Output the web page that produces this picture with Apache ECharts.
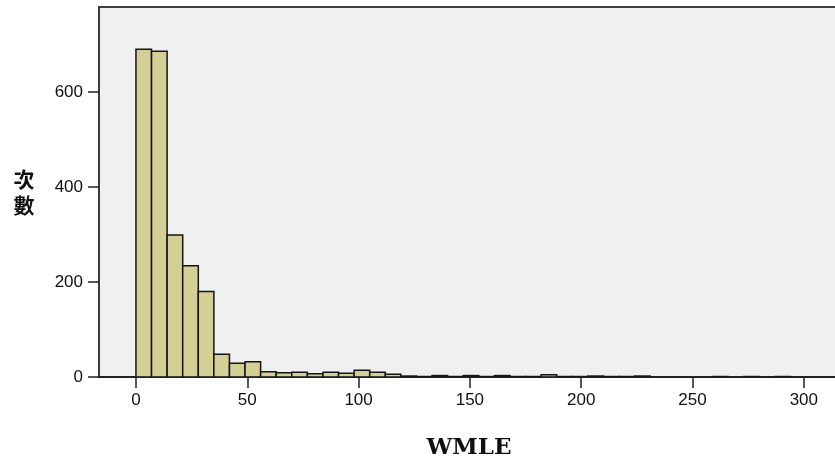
<!DOCTYPE html>
<html>
<head>
<meta charset="utf-8">
<script src="https://cdn.jsdelivr.net/npm/echarts@6/dist/echarts.min.js"></script>
<style>html,body{margin:0;padding:0;background:#fff;overflow:hidden;width:835px;height:461px}#c{width:850px;height:461px}</style>
</head>
<body>
<div id="c"></div>
<script>
// Bin edges (WMLE), width 7
var binEdges = [0,7,14,21,28,35,42,49,56,63,70,77,84,91,98,105,112,119,126,133,140,147,154,161,168,175,182,189,196,203,210,217,224,231,238,245,252,259,266,273,280,287,294];
// Frequency (次數) per bin
var counts = [690,686,299,234,180,48,29,32,11,9,10,7,10,8,14,10,6,2,1,3,1,3,1,3,1,1,5,1,1,2,1,1,2,0,0,0,0,1,0,1,0,1];
var xTicks = [0,50,100,150,200,250,300];
var yTicks = [0,200,400,600];
var xTitle = 'WMLE';
var yTitle = '次\n數';

var data = [];
for (var i = 0; i < counts.length; i++) {
  if (counts[i] > 0) data.push([binEdges[i], binEdges[i+1], counts[i]]);
}

var chart = echarts.init(document.getElementById('c'), null, {renderer:'canvas'});
chart.setOption({
  animation: false,
  backgroundColor: '#ffffff',
  grid: {left: 99, top: 7, width: 742, height: 370, show: true, backgroundColor: '#f0f0f0', borderColor: '#3c3c3c', borderWidth: 2},
  xAxis: {
    type: 'value', min: -16.6, max: 316.7,
    splitLine: {show: false},
    axisLine: {show: true, onZero: false, lineStyle: {color: '#222', width: 2}},
    axisTick: {show: true, customValues: xTicks, length: 11, lineStyle: {color: '#222', width: 1.5}},
    axisLabel: {customValues: xTicks, fontSize: 17, color: '#111', margin: 15, fontFamily: 'Liberation Sans, Arial, sans-serif'}
  },
  yAxis: {
    type: 'value', min: 0, max: 779,
    splitLine: {show: false},
    axisLine: {show: true, onZero: false, lineStyle: {color: '#3c3c3c', width: 2}},
    axisTick: {show: true, customValues: yTicks, length: 11, lineStyle: {color: '#222', width: 1.5}},
    axisLabel: {customValues: yTicks, fontSize: 17, color: '#111', margin: 16, fontFamily: 'Liberation Sans, Arial, sans-serif'}
  },
  graphic: [
    {type: 'text', x: 469, y: 448, style: {text: xTitle, font: 'bold 23px "DejaVu Serif", serif', fill: '#111', textAlign: 'center', textVerticalAlign: 'middle'}},
    {type: 'text', x: 24, y: 192, style: {text: yTitle, font: 'bold 21px "Noto Sans CJK TC", sans-serif', fill: '#111', textAlign: 'center', textVerticalAlign: 'middle', lineHeight: 26}}
  ],
  series: [{
    type: 'custom',
    clip: true,
    data: data,
    encode: {x: [0, 1], y: 2},
    renderItem: function (params, api) {
      var p0 = api.coord([api.value(0), 0]);
      var p1 = api.coord([api.value(1), api.value(2)]);
      return {
        type: 'rect',
        shape: {x: p0[0], y: p1[1], width: p1[0] - p0[0], height: p0[1] - p1[1]},
        style: {fill: '#d4cf97', stroke: '#151515', lineWidth: 1.5}
      };
    }
  }]
});
</script>
</body>
</html>
